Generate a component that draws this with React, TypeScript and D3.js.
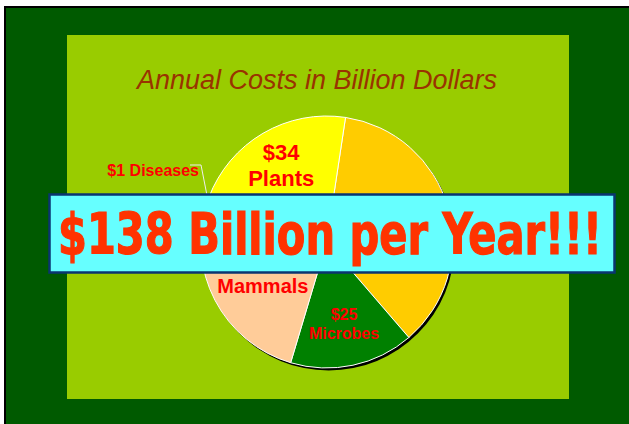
import React from "react";
import * as d3 from "d3";

// slices, clockwise from the top (the first one starts a little past 12 o'clock)
const categories = ["Other", "Microbes", "Mammals", "Diseases", "Plants"];
const costs = [57, 25, 40, 1, 34];
const valueLabels = ["", "$25", "", "$1", "$34"];
const sliceColors = ["#ffcc00", "#008000", "#ffcc99", "#ffffcc", "#ffff00"];

const title = "Annual Costs in Billion Dollars";
const banner = "$138 Billion per Year!!!";

const W = 629, H = 424;
const cx = 326.7, cy = 242, R = 126;
const startDeg = 8.6;

// label placement per slice: radius of the label centre and font size
const labelRadius = [88, 83, 72, 0, 90];
const labelSize = [20, 16, 20, 16, 22];

export default function App() {
  const pie = d3.pie<number>()
    .value(d => d)
    .sort(null)
    .startAngle((startDeg * Math.PI) / 180)
    .endAngle((startDeg * Math.PI) / 180 + 2 * Math.PI);
  const arcs = pie(costs);

  const arc = d3.arc<d3.PieArcDatum<number>>().innerRadius(0).outerRadius(R);
  const outline = d3.arc<any>().innerRadius(0).outerRadius(R)({ startAngle: 0, endAngle: 2 * Math.PI });

  return (
    <svg width={W} height={H} style={{ position: "absolute", left: 0, top: 0 }}>
      <rect x={0} y={0} width={W} height={H} fill="#ffffff" />
      <rect x={5} y={7} width={640} height={430} fill="#005a00" stroke="#000" strokeWidth={2} />
      <rect x={67} y={35} width={502} height={364} fill="#99cc00" />

      <text x={317} y={89} textAnchor="middle" fontFamily="'Liberation Sans', Arial, sans-serif"
        fontStyle="italic" fontSize={27} fill="#993300">{title}</text>

      <g transform={`translate(${cx},${cy})`}>
        <path d={outline as string} transform="translate(2,2.5)" fill="#000" />
        {arcs.map((a, i) => (
          <path key={categories[i]} d={arc(a) as string} fill={sliceColors[i]} stroke="#fff" strokeWidth={1} />
        ))}
        {arcs.map((a, i) => {
          if (categories[i] === "Other" || categories[i] === "Diseases") return null;
          const [lx, ly] = d3.arc<any>().innerRadius(labelRadius[i]).outerRadius(labelRadius[i]).centroid(a);
          const fs = labelSize[i];
          return (
            <text key={"l" + i} x={lx} y={ly} textAnchor="middle" fontFamily="'Liberation Sans', Arial, sans-serif"
              fontWeight="bold" fontSize={fs} fill="#ff0000">
              {valueLabels[i] ? <tspan x={lx} dy={-fs * 0.2}>{valueLabels[i]}</tspan> : null}
              <tspan x={lx} dy={valueLabels[i] ? fs * 1.18 : fs * 0.9}>{categories[i]}</tspan>
            </text>
          );
        })}
        {arcs.map((a, i) => {
          if (categories[i] !== "Diseases") return null;
          const mid = (a.startAngle + a.endAngle) / 2;
          const ex = R * Math.sin(mid), ey = -R * Math.cos(mid);
          const tx = 199 - cx, ty = 176 - cy;
          return (
            <g key="dis">
              <polyline points={`${tx - 9},${ty - 11} ${tx + 2},${ty - 11} ${ex},${ey}`} fill="none" stroke="#eeeeee" strokeWidth={1} />
              <text x={tx} y={ty} textAnchor="end" fontFamily="'Liberation Sans', Arial, sans-serif"
                fontWeight="bold" fontSize={16} fill="#ff0000">{`${valueLabels[i]} ${categories[i]}`}</text>
            </g>
          );
        })}
      </g>

      <rect x={49.5} y={194.5} width={565} height={78} fill="#66ffff" stroke="#0a3570" strokeWidth={2.5} />
      <text x={58} y={254} fontFamily="'DejaVu Sans Condensed', 'DejaVu Sans', sans-serif" fontWeight="bold"
        fontSize={57} fill="#ff3300" stroke="#ff3300" strokeWidth={1.2}
        textLength={544} lengthAdjust="spacingAndGlyphs">{banner}</text>
    </svg>
  );
}
